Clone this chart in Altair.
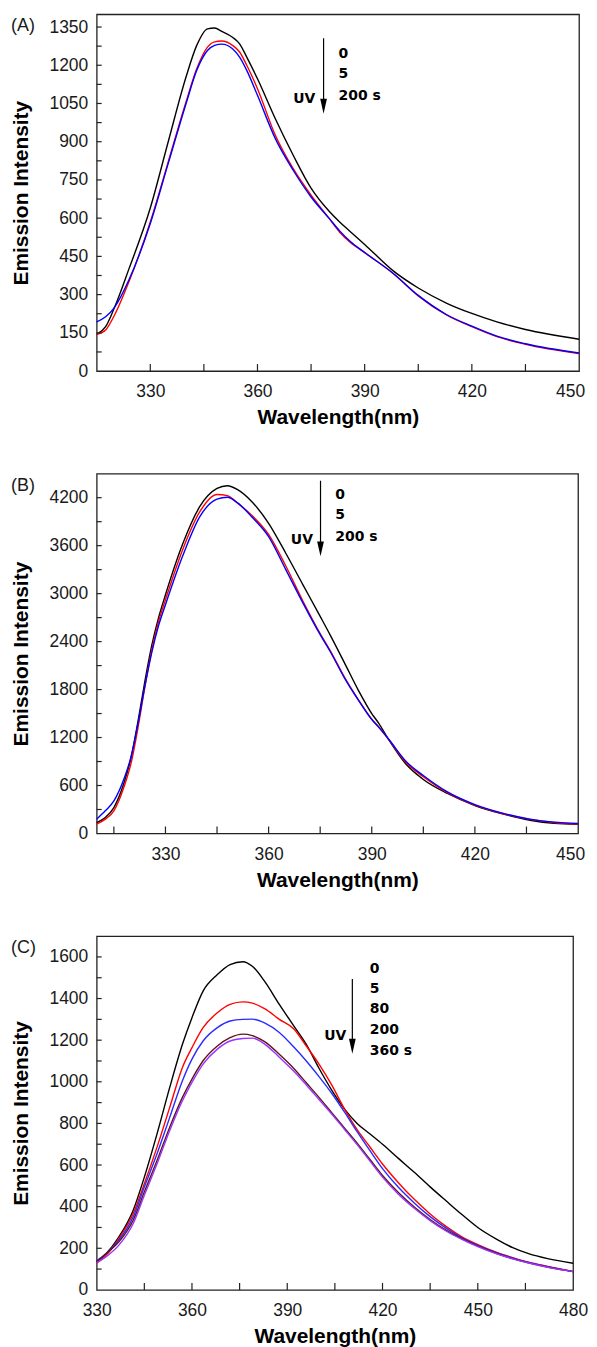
import altair as alt
import pandas as pd

FONT = "Liberation Sans"
ANN_FONT = "DejaVu Sans"

# ---------------- Panel A ----------------
a_wl = [315, 317.5, 320, 324, 330, 335, 340, 343, 346, 348, 350, 353, 355, 357, 360,
        365, 370, 375, 380, 383, 386, 390, 398, 405, 413, 420, 427, 435, 450]
a_0s = [144, 174, 250, 400, 640, 899, 1154, 1278, 1343, 1346, 1333, 1310, 1284, 1232, 1147,
        990, 847, 718, 628, 585, 547, 497, 393, 326, 266, 226, 193, 163, 125]
a_5s = [144, 161, 220, 350, 585, 820, 1056, 1186, 1271, 1292, 1295, 1278, 1252, 1200, 1108,
        925, 794, 690, 600, 545, 505, 465, 383, 295, 219, 174, 135, 105, 69]
a_200s = [193, 213, 250, 357, 579, 814, 1049, 1180, 1258, 1278, 1283, 1265, 1232, 1180, 1082,
          912, 788, 683, 600, 550, 508, 465, 383, 297, 221, 176, 137, 107, 71]

# ---------------- Panel B ----------------
b_wl = [310, 312.5, 315, 318, 320, 322, 324, 326, 328, 330, 335, 340, 345, 348, 351, 355, 360, 365,
        370, 375, 378, 382, 386, 390, 392, 395, 400, 405, 412, 420, 428, 436, 443, 450]
b_0s = [137, 200, 324, 640, 950, 1400, 1900, 2350, 2700, 2985, 3620, 4090, 4316, 4350, 4300, 4155,
        3880, 3505, 3110, 2715, 2475, 2140, 1800, 1500, 1380, 1170, 865, 675, 500, 350, 245, 166, 127, 116]
b_5s = [116, 179, 283, 590, 880, 1320, 1830, 2290, 2650, 2923, 3550, 4025, 4240, 4225, 4130, 3985,
        3740, 3345, 2905, 2500, 2280, 1960, 1680, 1430, 1335, 1170, 885, 710, 510, 355, 250, 176, 138, 118]
b_200s = [179, 283, 407, 690, 960, 1370, 1840, 2260, 2600, 2861, 3470, 3963, 4183, 4205, 4135, 3965,
          3713, 3300, 2882, 2487, 2270, 1950, 1675, 1425, 1330, 1175, 900, 725, 520, 362, 255, 180, 142, 125]

# ---------------- Panel C ----------------
c_wl = [330, 333, 337, 341.5, 345, 349, 353, 357, 360, 363.5, 368, 372, 376, 379, 383, 387.5,
        392, 396, 400, 404, 408, 412, 416, 420, 425, 430, 435, 440, 445, 450, 456, 461, 466, 472, 480]
c_0s = [136, 175, 255, 383, 542, 750, 973, 1180, 1308, 1436, 1515, 1563, 1577, 1555, 1480, 1372,
        1270, 1180, 1065, 960, 870, 800, 750, 700, 632, 565, 495, 428, 362, 300, 243, 203, 174, 150, 128]
c_5s = [128, 167, 247, 367, 510, 686, 877, 1069, 1164, 1260, 1332, 1372, 1384, 1378, 1350, 1300,
        1255, 1172, 1085, 985, 870, 770, 688, 605, 515, 435, 365, 305, 255, 218, 180, 155, 133, 113, 88]
c_80s = [140, 175, 239, 351, 494, 654, 829, 1005, 1109, 1196, 1260, 1292, 1300, 1301, 1282, 1237,
         1168, 1100, 1025, 945, 855, 760, 670, 583, 493, 418, 352, 297, 250, 214, 178, 153, 132, 112, 88]
c_200s = [136, 175, 231, 335, 470, 622, 782, 925, 1013, 1101, 1172, 1212, 1229, 1222, 1192, 1132,
          1065, 995, 925, 852, 778, 705, 628, 550, 468, 398, 338, 287, 246, 210, 175, 150, 130, 110, 88]
c_360s = [131, 160, 215, 319, 455, 606, 766, 909, 997, 1085, 1157, 1196, 1208, 1210, 1180, 1118,
          1052, 985, 915, 845, 772, 698, 620, 542, 460, 392, 333, 283, 243, 208, 173, 149, 129, 109, 88]

# ---------------- annotations ----------------
a_labels = ["0", "5", "200 s"]
a_label_x = 382.7
a_label_y = [1246, 1166, 1081]
a_uv = (376.2, 1068)
a_arrow = (378.5, 1306, 1039)   # x, top, head centre

b_labels = ["0", "5", "200 s"]
b_label_x = 379.4
b_label_y = [4237, 3979, 3708]
b_uv = (372.9, 3667)
b_arrow = (375.1, 4412, 3560)

c_labels = ["0", "5", "80", "200", "360 s"]
c_label_x = 416.0
c_label_y = [1542, 1446, 1351, 1250, 1149]
c_uv = (408.6, 1218)
c_arrow = (410.5, 1494, 1171)


def long_df(wl, series):
    rows = []
    for name, vals in series:
        for w, v in zip(wl, vals):
            rows.append({"wl": w, "val": v, "s": name})
    return pd.DataFrame(rows)


def panel(wl, series, colors, xdom, ydom, xmaj, xall, ymaj, yall, w, h, tag,
          labels, label_x, label_y, uv, arrow, last_shift):
    df = long_df(wl, series)
    names = [n for n, _ in series]
    xs = alt.Scale(domain=xdom, nice=False, zero=False)
    ys = alt.Scale(domain=ydom, nice=False, zero=False)
    xaxis = alt.Axis(values=xmaj, title="Wavelength(nm)", grid=False, domain=False, format="d",
                     ticks=False, tickSize=0, labelPadding=21, labelBaseline="middle",
                     labelFontSize=17.5, labelFont=FONT, labelColor="#1a1a1a",
                     labelFlush=False, labelOverlap=False,
                     labelOffset=alt.condition(f"datum.value == {xdom[1]}",
                                               alt.value(last_shift), alt.value(0)),
                     titleFont=FONT, titleFontSize=21, titleFontWeight="bold",
                     titleColor="#000000", titleY=47, titleBaseline="middle")
    yaxis = alt.Axis(values=ymaj, title="Emission Intensity", grid=False, domain=False, format="d",
                     ticks=False, tickSize=0, labelPadding=9,
                     labelFontSize=17.5, labelFont=FONT, labelColor="#1a1a1a",
                     labelOverlap=False,
                     titleFont=FONT, titleFontSize=21, titleFontWeight="bold",
                     titleColor="#000000", titleX=-75, titleY=h / 2,
                     titleBaseline="middle", titleAngle=270)

    X = lambda f="wl": alt.X(f + ":Q", scale=xs, axis=xaxis)
    Y = lambda f="val": alt.Y(f + ":Q", scale=ys, axis=yaxis)

    lines = alt.Chart(df).mark_line(strokeWidth=1.4, interpolate="monotone").encode(
        x=X(), y=Y(),
        color=alt.Color("s:N", scale=alt.Scale(domain=names, range=colors), legend=None),
        detail="s:N",
    )

    xt = alt.Chart(pd.DataFrame({"wl": xall})).mark_rule(color="#222222", strokeWidth=1.2).encode(
        x=X(), y=alt.value(h), y2=alt.value(h - 7),
    )
    yt = alt.Chart(pd.DataFrame({"val": yall})).mark_rule(color="#222222", strokeWidth=1.2).encode(
        y=Y(), x=alt.value(0), x2=alt.value(5),
    )

    lab_df = pd.DataFrame({"wl": [label_x] * len(labels), "val": label_y, "t": labels})
    lab = alt.Chart(lab_df).mark_text(font=ANN_FONT, fontWeight="bold", fontSize=14,
                                      align="left", baseline="middle", color="#000000").encode(
        x=X(), y=Y(), text="t:N",
    )
    uv_df = pd.DataFrame({"wl": [uv[0]], "val": [uv[1]], "t": ["UV"]})
    uvt = alt.Chart(uv_df).mark_text(font=ANN_FONT, fontWeight="bold", fontSize=14,
                                     align="right", baseline="middle", color="#000000").encode(
        x=X(), y=Y(), text="t:N",
    )
    arr_df = pd.DataFrame({"wl": [arrow[0]], "val": [arrow[1]], "val2": [arrow[2]]})
    shaft = alt.Chart(arr_df).mark_rule(color="#000000", strokeWidth=1.2).encode(
        x=X(), y=Y(), y2="val2:Q",
    )
    head = alt.Chart(arr_df).mark_point(shape="M-0.45,-1L0.45,-1L0,1Z", filled=True, size=225,
                                        color="#000000", opacity=1, strokeWidth=0).encode(
        x=X(), y=Y("val2"),
    )
    tag_t = alt.Chart(pd.DataFrame({"k": [0]})).mark_text(
        font=FONT, fontSize=18, align="left", baseline="middle", color="#1a1a1a").encode(
        x=alt.value(-86), y=alt.value(12), text=alt.value(tag),
    )
    return alt.layer(lines, xt, yt, lab, uvt, shaft, head, tag_t).properties(width=w, height=h)


pa = panel(a_wl, [("A 0 s", a_0s), ("A 5 s", a_5s), ("A 200 s", a_200s)],
           ["#000000", "#ff0000", "#0000ff"],
           [315, 450], [0, 1400], [330, 360, 390, 420, 450],
           [330, 345, 360, 375, 390, 405, 420, 435],
           [0, 150, 300, 450, 600, 750, 900, 1050, 1200, 1350],
           [75 * i for i in range(1, 19)],
           484, 358, "(A)", a_labels, a_label_x, a_label_y, a_uv, a_arrow, -9)

pb = panel(b_wl, [("B 0 s", b_0s), ("B 5 s", b_5s), ("B 200 s", b_200s)],
           ["#000000", "#ff0000", "#0000ff"],
           [310, 450], [0, 4500], [330, 360, 390, 420, 450],
           [315, 330, 345, 360, 375, 390, 405, 420, 435],
           [0, 600, 1200, 1800, 2400, 3000, 3600, 4200],
           [300 * i for i in range(1, 15)],
           483, 361, "(B)", b_labels, b_label_x, b_label_y, b_uv, b_arrow, -8)

pc = panel(c_wl, [("C 0 s", c_0s), ("C 5 s", c_5s), ("C 80 s", c_80s), ("C 200 s", c_200s),
                  ("C 360 s", c_360s)],
           ["#000000", "#ff0000", "#2a2aff", "#5e1414", "#9933ff"],
           [330, 480], [0, 1700], [330, 360, 390, 420, 450, 480],
           [345, 360, 375, 390, 405, 420, 435, 450, 465],
           [0, 200, 400, 600, 800, 1000, 1200, 1400, 1600],
           [100 * i for i in range(1, 17)],
           478, 355, "(C)", c_labels, c_label_x, c_label_y, c_uv, c_arrow, 0)

chart = alt.vconcat(pa, pb, pc, spacing=44).resolve_scale(
    color="independent", x="independent", y="independent"
).configure_view(
    stroke="#222222", strokeWidth=1.3
).properties(padding={"left": 2, "top": 3, "right": 0, "bottom": 0})

chart.save("out.html", embed_options={"renderer": "svg", "actions": False})
